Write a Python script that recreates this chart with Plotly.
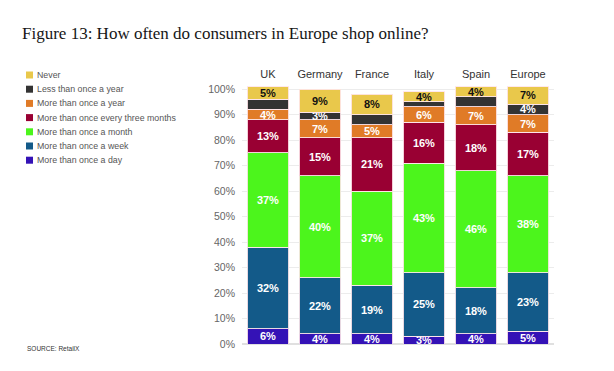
import plotly.graph_objects as go

countries = ["UK", "Germany", "France", "Italy", "Spain", "Europe"]

series_names = [
    "More than once a day",
    "More than once a week",
    "More than once a month",
    "More than once every three months",
    "More than once a year",
    "Less than once a year",
    "Never",
]

day = [6, 4, 4, 3, 4, 5]
week = [32, 22, 19, 25, 18, 23]
month = [37, 40, 37, 43, 46, 38]
three_months = [13, 15, 21, 16, 18, 17]
year = [4, 7, 5, 6, 7, 7]
less_year = [4, 3, 4, 2, 4, 4]
never = [5, 9, 8, 4, 4, 7]

# which labels are printed on the segments
less_year_shown = [False, True, False, False, False, True]

y_ticks = [0, 10, 20, 30, 40, 50, 60, 70, 80, 90, 100]
y_tick_labels = [f"{v}%" for v in y_ticks]

colors = ["#3412b6", "#135a89", "#4cf51c", "#990033", "#e07b27", "#333333", "#e9c84b"]
text_colors = ["white", "white", "white", "white", "white", "white", "#111111"]

values = [day, week, month, three_months, year, less_year, never]

fig = go.Figure()
for i, (name, vals) in enumerate(zip(series_names, values)):
    if name == "Less than once a year":
        texts = [f"{v}%" if s else "" for v, s in zip(vals, less_year_shown)]
    else:
        texts = [f"{v}%" for v in vals]
    fig.add_trace(go.Bar(
        name=name,
        x=countries,
        y=vals,
        text=texts,
        textposition="inside",
        insidetextanchor="middle",
        textangle=0,
        textfont=dict(family="Liberation Sans", size=11, color=text_colors[i], weight="bold"),
        marker=dict(color=colors[i], line=dict(color="rgba(255,230,235,0.9)", width=1)),
        hoverinfo="skip",
        showlegend=False,
    ))

# plot area in pixels
L, R, T, B = 242, 554, 84, 344
W, H = 614, 371


def px_x(px):
    return (px - L) / (R - L)


def px_y(py):
    return (B - py) / (B - T)


shapes = []
annotations = []
# custom compact legend (top to bottom: Never ... day)
for k, idx in enumerate(reversed(range(len(series_names)))):
    cy = 75 + k * 14.2
    shapes.append(dict(
        type="rect", xref="paper", yref="paper",
        x0=px_x(26), x1=px_x(33), y0=px_y(cy + 3.5), y1=px_y(cy - 3.5),
        fillcolor=colors[idx], line=dict(width=0),
    ))
    annotations.append(dict(
        xref="paper", yref="paper", x=px_x(35), y=px_y(cy),
        text=series_names[idx], showarrow=False, xanchor="left", yanchor="middle",
        font=dict(family="Liberation Sans", size=8.8, color="#555555"),
    ))

annotations.append(dict(
    xref="paper", yref="paper", x=px_x(25), y=px_y(348),
    text="SOURCE: RetailX", showarrow=False, xanchor="left", yanchor="middle",
    font=dict(family="Liberation Sans", size=6.5, color="#333333"),
))

fig.update_layout(
    width=W, height=H,
    barmode="stack",
    bargap=0.21,
    margin=dict(l=L, r=W - R, t=T, b=H - B, pad=0),
    paper_bgcolor="white",
    plot_bgcolor="white",
    title=dict(
        text="Figure 13: How often do consumers in Europe shop online?",
        x=22 / W, xanchor="left", y=1 - 33 / H, yanchor="middle",
        font=dict(family="Liberation Serif", size=17, color="#161616"),
    ),
    xaxis=dict(
        side="top", showline=False, showgrid=False, ticks="",
        ticklabelstandoff=3,
        tickfont=dict(family="Liberation Sans", size=11, color="#333333"),
    ),
    yaxis=dict(
        range=[0, 102], tickvals=y_ticks, ticktext=y_tick_labels,
        showgrid=True, gridcolor="#ececec", gridwidth=1,
        zeroline=True, zerolinecolor="#e0e0e0",
        showline=False, ticks="",
        ticklabelstandoff=6,
        tickfont=dict(family="Liberation Sans", size=10.5, color="#666666"),
    ),
    uniformtext=dict(mode="show", minsize=11),
    shapes=shapes,
    annotations=annotations,
    showlegend=False,
)

fig.write_html("out.html", config={"displayModeBar": False},
               post_script="document.body.style.margin='0px';")
